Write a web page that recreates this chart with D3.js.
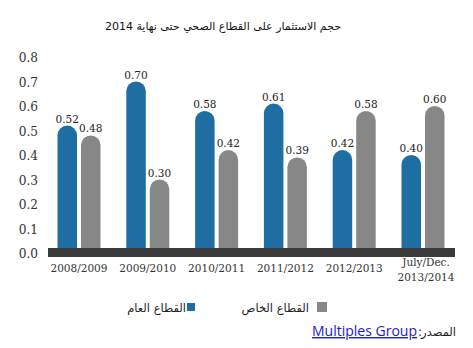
<!DOCTYPE html>
<html><head><meta charset="utf-8">
<script src="https://cdn.jsdelivr.net/npm/d3@7"></script>
<style>
html,body{margin:0;padding:0;background:#fff;}
svg{display:block;}
</style></head>
<body>
<svg id="chart" width="473" height="348"></svg>
<script>
const categories = ["2008/2009","2009/2010","2010/2011","2011/2012","2012/2013","July/Dec.|2013/2014"];
const publicSector = [0.52,0.70,0.58,0.61,0.42,0.40];
const privateSector = [0.48,0.30,0.42,0.39,0.58,0.60];
const valueLabelsPublic = ["0.52","0.70","0.58","0.61","0.42","0.40"];
const valueLabelsPrivate = ["0.48","0.30","0.42","0.39","0.58","0.60"];
const yTicks = [0,0.1,0.2,0.3,0.4,0.5,0.6,0.7,0.8];
const seriesNames = ["القطاع العام","القطاع الخاص"];
const title = "حجم الاستثمار على القطاع الصحي حتى نهاية 2014";

const colors = {pub:"#1f6ea3", priv:"#878787", base:"#3b3b3b"};
const svg = d3.select("#chart");

const y = d3.scaleLinear().domain([0,0.8]).range([253,57]);
const x = d3.scalePoint().domain(categories).range([79,423]);
const x1 = d3.scaleBand().domain(["pub","priv"]).range([-21.5,21.5]).paddingInner(0.17);
const bw = x1.bandwidth();

// title
svg.append("text").attr("x",223).attr("y",30).attr("text-anchor","middle")
  .attr("font-family","DejaVu Sans").attr("font-size",11).attr("fill","#111").text(title);

// y axis labels
const yAxis = d3.axisLeft(y).tickValues(yTicks).tickFormat(d3.format(".1f")).tickSize(0).tickPadding(0);
const gy = svg.append("g").attr("transform","translate(38,0)").call(yAxis);
gy.select(".domain").remove();
gy.selectAll("text").attr("font-family","DejaVu Serif").attr("font-size",13.5)
  .attr("font-stretch","condensed").attr("fill","#333").attr("dy","0.36em");

function roundTop(cx, v){
  const x0 = cx - bw/2, r = bw/2, yt = y(v), yb = y(0);
  return `M${x0},${yb} L${x0},${yt+r} A${r},${r} 0 0 1 ${x0+bw},${yt+r} L${x0+bw},${yb} Z`;
}

const groups = svg.append("g").selectAll("g").data(categories).join("g");
groups.each(function(c,i){
  const g = d3.select(this);
  const cPub = x(c) + x1("pub") + bw/2;
  const cPriv = x(c) + x1("priv") + bw/2;
  g.append("path").attr("d", roundTop(cPub, publicSector[i])).attr("fill", colors.pub);
  g.append("path").attr("d", roundTop(cPriv, privateSector[i])).attr("fill", colors.priv);
  g.append("text").attr("x",cPub).attr("y",y(publicSector[i])-3).attr("text-anchor","middle")
    .attr("font-family","DejaVu Serif").attr("font-size",10.5).attr("fill","#222").text(valueLabelsPublic[i]);
  g.append("text").attr("x",cPriv).attr("y",y(privateSector[i])-3).attr("text-anchor","middle")
    .attr("font-family","DejaVu Serif").attr("font-size",10.5).attr("fill","#222").text(valueLabelsPrivate[i]);
});

// baseline bar
const [r0, r1] = x.range();
svg.append("rect").attr("x", r0-31).attr("y", y(0)-5).attr("width", (r1+32)-(r0-31)).attr("height", 9)
  .attr("fill", colors.base);

// category labels
const xAxis = svg.append("g");
categories.forEach((c,i)=>{
  const parts = c.split("|");
  const t = xAxis.append("text").attr("x", x(c)+(parts.length>1?3:0)).attr("text-anchor","middle")
    .attr("font-family","DejaVu Serif").attr("font-size",10.5).attr("fill","#333");
  if(parts.length===1){ t.attr("y",272).text(c); }
  else {
    t.append("tspan").attr("x", x(c)+3).attr("y",266).text(parts[0]);
    t.append("tspan").attr("x", x(c)+3).attr("y",281).text(parts[1]);
  }
});

// legend
const leg = svg.append("g");
leg.append("rect").attr("x",187).attr("y",303).attr("width",8).attr("height",8).attr("fill",colors.pub);
leg.append("text").attr("x",186).attr("y",312).attr("text-anchor","start").attr("direction","rtl")
  .attr("font-family","DejaVu Sans").attr("font-size",11.5).attr("fill","#222").text(seriesNames[0]);
leg.append("rect").attr("x",317).attr("y",302).attr("width",10).attr("height",10).attr("fill",colors.priv);
leg.append("text").attr("x",309).attr("y",312).attr("text-anchor","start").attr("direction","rtl")
  .attr("font-family","DejaVu Sans").attr("font-size",11.5).attr("fill","#222").text(seriesNames[1]);

// source
svg.append("text").attr("x",456).attr("y",336).attr("text-anchor","start").attr("direction","rtl")
  .attr("font-family","DejaVu Sans").attr("font-size",11.5).attr("fill","#222").text("المصدر");
svg.append("text").attr("x",418).attr("y",336).attr("text-anchor","start")
  .attr("font-family","DejaVu Sans").attr("font-size",12).attr("fill","#222").text(":");
svg.append("text").attr("x",417).attr("y",336).attr("text-anchor","end")
  .attr("font-family","Open Sans").attr("font-size",14).attr("fill","#2020c8")
  .attr("text-decoration","underline").text("Multiples Group");
</script>
</body></html>
